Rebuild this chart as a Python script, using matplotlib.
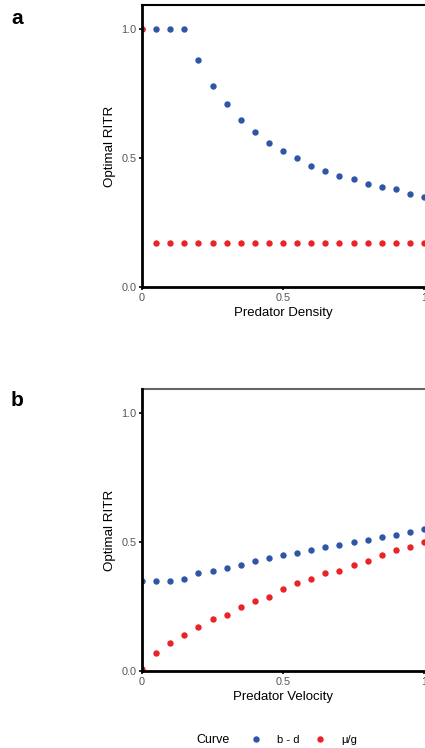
import matplotlib
matplotlib.use("Agg")
import matplotlib.pyplot as plt
from matplotlib.lines import Line2D

plt.rcParams['font.family'] = ['Liberation Sans', 'DejaVu Sans']

x = [0, 0.05, 0.1, 0.15, 0.2, 0.25, 0.3, 0.35, 0.4, 0.45, 0.5,
     0.55, 0.6, 0.65, 0.7, 0.75, 0.8, 0.85, 0.9, 0.95, 1.0]

a_bd = [1.0, 1.0, 1.0, 1.0, 0.881, 0.780, 0.710, 0.650, 0.600, 0.560, 0.530,
        0.500, 0.470, 0.449, 0.430, 0.420, 0.399, 0.390, 0.381, 0.360, 0.350]
a_mug = [1.0, 0.171, 0.171, 0.171, 0.171, 0.171, 0.171, 0.171, 0.171, 0.171, 0.171,
         0.171, 0.171, 0.171, 0.171, 0.171, 0.171, 0.171, 0.171, 0.171, 0.171]

b_bd = [0.349, 0.349, 0.349, 0.359, 0.380, 0.389, 0.399, 0.410, 0.429, 0.438, 0.450,
        0.459, 0.468, 0.480, 0.489, 0.499, 0.510, 0.520, 0.529, 0.540, 0.550]
b_mug = [0.008, 0.070, 0.109, 0.139, 0.169, 0.200, 0.219, 0.249, 0.270, 0.289, 0.319,
         0.340, 0.359, 0.380, 0.389, 0.410, 0.429, 0.450, 0.470, 0.480, 0.499]

xticks = [0, 0.5, 1]
xticklabels = ['0', '0.5', '1']
yticks = [0.0, 0.5, 1.0]
yticklabels = ['0.0', '0.5', '1.0']
series_labels = ['b - d', 'μ/g']

BLUE = '#2F56A6'
RED = '#EC2227'
W, H = 425, 748

fig = plt.figure(figsize=(W / 100, H / 100), dpi=100)


def make_ax(top_px, bottom_px, xlabel, bd, mug, letter, letter_y, top_color):
    left_px, right_px = 142, 424
    ax = fig.add_axes([left_px / W, (H - bottom_px) / H,
                       (right_px - left_px) / W, (bottom_px - top_px) / H])
    ax.plot(x, bd, 'o', color=BLUE, ms=4.6, mec='none', zorder=3)
    ax.plot(x, mug, 'o', color=RED, ms=4.6, mec='none', zorder=4)
    ax.set_xlim(0, 1)
    ax.set_ylim(0, 1.095)
    ax.set_xticks(xticks)
    ax.set_xticklabels(xticklabels)
    ax.set_yticks(yticks)
    ax.set_yticklabels(yticklabels)
    ax.tick_params(direction='out', length=2.5, width=1.2, color='black',
                   labelcolor='#555555', labelsize=7.8, pad=1.5)
    for s in ['left', 'bottom']:
        ax.spines[s].set_linewidth(2.0)
        ax.spines[s].set_color('black')
        ax.spines[s].set_zorder(5)
    ax.spines['top'].set_linewidth(1.5)
    ax.spines['top'].set_color(top_color)
    ax.spines['right'].set_visible(False)
    ax.set_xlabel(xlabel, fontsize=9.5, labelpad=3.5)
    ax.set_ylabel('Optimal RITR', fontsize=9.6, labelpad=4)
    fig.text(17 / W, 1 - letter_y / H, letter, fontsize=15, fontweight='bold',
             ha='center', va='center')
    return ax


make_ax(5, 287, 'Predator Density', a_bd, a_mug, 'a', 18, 'black')
make_ax(389, 671, 'Predator Velocity', b_bd, b_mug, 'b', 401, '#666666')

# Legend
fig.text(213 / W, 1 - 740 / H, 'Curve', fontsize=9, ha='center', va='center')
handles = [Line2D([], [], ls='none', marker='o', color=BLUE, ms=4.6, mec='none'),
           Line2D([], [], ls='none', marker='o', color=RED, ms=4.6, mec='none')]
fig.legend(handles, series_labels, loc='center left', bbox_to_anchor=(249 / W, 1 - 740 / H),
           ncol=2, frameon=False, fontsize=8, handlelength=1.2, handletextpad=1.3,
           columnspacing=1.3, borderpad=0, borderaxespad=0)

fig.savefig('out.png', dpi=100)
